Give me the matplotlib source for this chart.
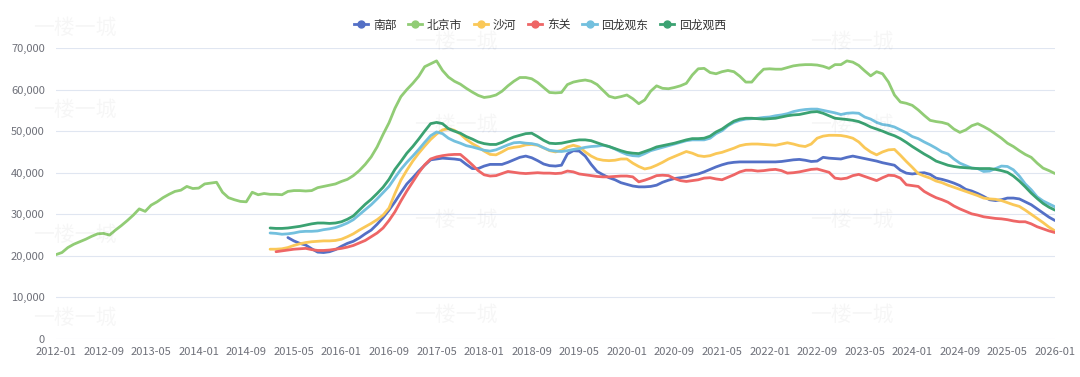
import numpy as np
import pandas as pd
import matplotlib
matplotlib.use("Agg")
import matplotlib.pyplot as plt
from matplotlib.lines import Line2D

plt.rcParams['font.family'] = ['Noto Sans CJK SC', 'DejaVu Sans']

# monthly categories 2012-01 .. 2026-01
months = pd.date_range('2012-01-01', '2026-01-01', freq='MS').strftime('%Y-%m').tolist()

# 北京市 (2012-01 ..)
beijing = [20300, 20800, 22000, 22800, 23400, 24000, 24700, 25300, 25400, 25000, 26200, 27300,
           28500, 29800, 31300, 30700, 32200, 33000, 34000, 34800, 35500, 35800, 36700, 36200,
           36300, 37300, 37500, 37700, 35300, 34000, 33500, 33100, 33000, 35300, 34700, 35000,
           34800, 34800, 34700, 35500, 35700, 35700, 35600, 35700, 36400, 36700, 37000, 37300,
           37900, 38400, 39300, 40500, 42000, 43800, 46200, 49200, 52000, 55500, 58300, 60000,
           61500, 63200, 65500, 66200, 66900, 64600, 63000, 62000, 61300,
           60300, 59400, 58600, 58100, 58300, 58700, 59600, 60900, 62000, 62900, 62900, 62600,
           61700, 60500, 59300, 59200, 59300, 61200, 61800, 62100, 62300, 62000, 61200, 59800,
           58400, 58000, 58300, 58700, 57800, 56600, 57500, 59600,
           60900, 60300, 60200, 60500, 60900, 61500, 63500, 65000, 65100, 64100, 63800, 64300,
           64600, 64300, 63200, 61800, 61800, 63500, 64900, 65000, 64900, 64900, 65300, 65700,
           65900, 66000, 66000, 65900, 65600, 65100, 66000,
           66000, 66900, 66600, 65800, 64500, 63300, 64300, 63800, 61800, 58700, 57000, 56700,
           56200, 55100, 53800, 52600, 52300, 52100, 51700, 50500, 49700, 50300, 51300, 51800,
           51100, 50300, 49300, 48300, 47100, 46300, 45300, 44400, 43700, 42300, 41100, 40500, 39800]

# 回龙观西 (2015-01 ..)
hlg_west = [26700, 26600, 26600, 26700, 26900, 27100, 27400, 27700, 27900, 27900, 27800, 27900,
            28200, 28800, 29600, 31000, 32400, 33600, 35000, 36500, 38400, 40800, 42700, 44700,
            46300, 48100, 50000, 51800, 52100, 51800, 50600, 50000, 49500,
            48700, 48100, 47400, 47000, 46800, 46800, 47300, 48000, 48600, 49000, 49400, 49500,
            48700, 47800, 47100, 47000, 47100, 47400, 47700, 47900, 47900, 47700, 47200, 46700,
            46300, 45800, 45300, 44900, 44700, 44600, 45100, 45600,
            46200, 46500, 46800, 47100, 47500, 47900, 48200, 48200, 48300, 48800, 49800, 50500,
            51500, 52400, 52900, 53100, 53100, 53000, 52900, 53000, 53100, 53400, 53700, 53900,
            54000, 54300, 54600, 54700, 54300, 53700, 53100,
            52950, 52800, 52600, 52300, 51700, 51000, 50500, 50000, 49400, 48900, 48200, 47300,
            46300, 45400, 44500, 43700, 42800, 42300, 41800, 41500, 41300, 41200, 41100, 41000,
            41000, 41000, 40800, 40500, 40100, 39200, 38000, 36600, 35100, 33800, 32600, 31700, 31000]

# 回龙观东 (2015-01 ..)
hlg_east = [25500, 25400, 25200, 25300, 25500, 25800, 25900, 25900, 26000, 26300, 26500, 26800,
            27300, 27900, 28700, 29900, 31100, 32300, 33700, 35200, 36700, 38800, 40800, 42500,
            44000, 45600, 47300, 48900, 49800, 49400, 48300, 47600, 47100,
            46500, 46200, 45800, 45400, 45200, 45500, 46100, 46700, 47200, 47300, 47100, 47000,
            46700, 46000, 45400, 45200, 45100, 45300, 45600, 45800, 46100, 46300, 46400, 46600,
            46300, 45700, 45000, 44400, 44100, 44000, 44600, 45300,
            45700, 46100, 46500, 46900, 47300, 47700, 47900, 47900, 47900, 48300, 49400, 50100,
            51300, 52100, 52600, 52900, 53000, 53100, 53300, 53400, 53700, 53900, 54200, 54700,
            55000, 55200, 55300, 55300, 55000, 54700, 54400,
            54000, 54300, 54400, 54300, 53400, 52900, 52100, 51600, 51400, 51000, 50300, 49600,
            48700, 48200, 47400, 46700, 45900, 45000, 44500, 43300, 42300, 41700, 41100, 41000,
            40300, 40400, 41000, 41600, 41500, 40700, 39200, 37300, 35900, 34200, 33200, 32500, 31800]

# 沙河 (2015-01 ..)
shahe = [21600, 21600, 21700, 22000, 22500, 22900, 23200, 23400, 23500, 23600, 23600, 23700,
         24000, 24600, 25300, 26200, 27000, 27800, 28700, 29800, 31500, 35000, 38200, 40600,
         42800, 44700, 46400, 48000, 49300, 50300, 50600, 50200, 49300,
         48000, 47000, 46200, 45200, 44400, 44300, 45000, 45800, 46100, 46300, 46700, 46800,
         46600, 46000, 45300, 45000, 45400, 46200, 46600, 46200, 45000, 44000, 43300, 43000,
         42900, 43000, 43300, 43300, 42300, 41500, 40900, 41200,
         41800, 42500, 43300, 43900, 44500, 45100, 44700, 44100, 43900, 44100, 44600, 44900,
         45400, 45900, 46500, 46800, 46900, 46900, 46800, 46700, 46600, 46900, 47200, 46900,
         46500, 46300, 46900, 48300, 48800, 49000, 49000,
         48950, 48700, 48300, 47400, 46000, 45000, 44300, 45000, 45500, 45600, 44200, 42700,
         41300, 39800, 39200, 38700, 38000, 37600, 37000, 36500, 36000, 35500, 35000, 34500,
         33900, 33700, 33600, 33300, 32800, 32300, 31900, 31000, 30000, 29000, 28000, 26900, 26000]

# 东关 (2015-02 ..)
dongguan = [21000, 21200, 21400, 21600, 21700, 21800, 21500, 21300, 21300, 21400, 21600,
            21800, 22100, 22500, 23100, 23700, 24600, 25500, 26700, 28500, 30600, 33200, 35600,
            37800, 40000, 41900, 43300, 43800, 44100, 44300, 44400, 44400,
            43200, 41900, 40500, 39500, 39200, 39300, 39800, 40300, 40100, 39900, 39800, 39900,
            40000, 39900, 39900, 39800, 39900, 40400, 40200, 39700, 39500, 39300, 39100, 39000,
            39000, 39100, 39200, 39200, 39000, 37800, 38200, 38700,
            39300, 39400, 39300, 38600, 38100, 37900, 38100, 38300, 38700, 38800, 38500, 38300,
            38900, 39500, 40200, 40600, 40600, 40400, 40500, 40700, 40800, 40500, 39900, 40000,
            40200, 40500, 40800, 40900, 40500, 40100, 38700,
            38500, 38700, 39300, 39600, 39100, 38600, 38100, 38800, 39400, 39300, 38700, 37100,
            36900, 36700, 35500, 34700, 34000, 33500, 32900, 32000, 31300, 30700, 30100, 29800,
            29400, 29200, 29000, 28900, 28700, 28400, 28200, 28200, 27700, 27000, 26500, 26000, 25600]

# 南部 (2015-04 ..)
nanbu = [24400, 23600, 23000, 22600, 21700, 20900, 20800, 21000, 21500, 22300, 23000, 23500,
         24300, 25300, 26200, 27600, 29200, 31000, 33000, 35200, 37300, 38800, 40400, 41800,
         43100, 43300, 43500, 43400, 43300, 43100,
         42000, 41000, 41000, 41600, 42000, 42000, 42000, 42500, 43100, 43700, 44000, 43600,
         42900, 42100, 41700, 41600, 41800, 44500, 45300, 45200, 44000, 42000, 40300, 39500,
         38800, 38300, 37600, 37200, 36800, 36600, 36600, 36700,
         37000, 37700, 38200, 38600, 38800, 39000, 39400, 39700, 40200, 40800, 41400, 41900,
         42300, 42500, 42600, 42600, 42600, 42600, 42600, 42600, 42600, 42700, 42900, 43100,
         43200, 43000, 42700, 42800, 43700, 43500, 43400,
         43300, 43700, 44000, 43700, 43400, 43100, 42800, 42400, 42100, 41800, 40600, 39900,
         39700, 39900, 40000, 39600, 38700, 38400, 38000, 37500, 36900, 36000, 35600, 35000,
         34300, 33500, 33300, 33500, 33900, 33900, 33700, 33000, 32300, 31300, 30300, 29300, 28500]

series = [
    ('南部', '#5470c6', '2015-04', nanbu),
    ('北京市', '#91cc75', '2012-01', beijing),
    ('沙河', '#fac858', '2015-01', shahe),
    ('东关', '#ee6666', '2015-02', dongguan),
    ('回龙观东', '#73c0de', '2015-01', hlg_east),
    ('回龙观西', '#3ba272', '2015-01', hlg_west),
]

fig = plt.figure(figsize=(10.8, 3.77), dpi=100)
ax = fig.add_axes([56 / 1080, 38 / 377, 999 / 1080, 291 / 377])

# faint watermark, kept clear of the labels and legend
wm_pos = [(75, 28), (75, 110), (75, 235), (75, 318),
          (456, 42), (456, 125), (456, 220), (456, 315),
          (852, 42), (852, 125), (852, 220), (852, 315)]
for wx, wy in wm_pos:
    fig.text(wx / 1080, 1 - wy / 377, '一楼一城', fontsize=15, color='#000000',
             alpha=0.035, ha='center', va='center')

handles = []
for name, color, start, vals in series:
    i0 = months.index(start)
    x = np.arange(i0, i0 + len(vals))
    ax.plot(x, vals, color=color, lw=2.0, solid_capstyle='round', solid_joinstyle='round')
    handles.append(Line2D([0], [0], color=color, lw=2, marker='o', markersize=5,
                          markerfacecolor=color, markeredgecolor=color, label=name))

ax.set_xlim(0, len(months) - 1)
ax.set_ylim(0, 70000)
ax.set_yticks(range(0, 70001, 10000))
ax.set_yticklabels(['0' if v == 0 else f'{v:,}' for v in range(0, 70001, 10000)])
xt = list(range(0, len(months), 8))
ax.set_xticks(xt)
ax.set_xticklabels([months[i] for i in xt])
ax.tick_params(axis='both', length=0, labelsize=8, labelcolor='#6e7079')
ax.tick_params(axis='y', pad=8)
ax.tick_params(axis='x', pad=6)
ax.grid(axis='y', color='#e0e6f1', lw=0.8)
ax.set_axisbelow(True)
for s in ax.spines.values():
    s.set_visible(False)

fig.legend(handles=handles, loc='center', bbox_to_anchor=(0.5, 1 - 25 / 377), ncol=6,
           frameon=False, fontsize=8.5, handlelength=1.2, handletextpad=0.4,
           columnspacing=1.0, labelcolor='#333333')

fig.savefig('out.png', dpi=100)
